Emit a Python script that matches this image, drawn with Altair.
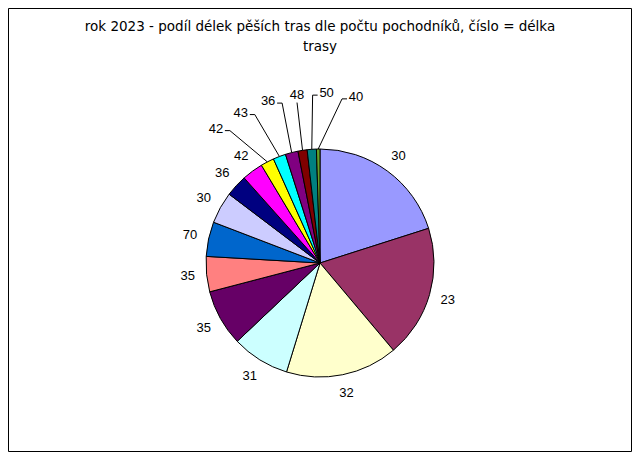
import altair as alt
import pandas as pd
import numpy as np

# ---- data ----
lengths = [30, 23, 32, 31, 35, 35, 70, 30, 36, 42, 42, 43, 36, 48, 50, 40]      # label = délka trasy
shares = [20.1, 18.8, 15.9, 8.2, 8.0, 5.0, 4.9, 4.5, 3.1, 3.0, 1.9, 1.8, 1.8, 1.3, 1.3, 0.5]  # podíl pochodníků (%)
colors = ["#9999FF", "#993366", "#FFFFCC", "#CCFFFF", "#660066", "#FF8080", "#0066CC", "#CCCCFF",
          "#000080", "#FF00FF", "#FFFF00", "#00FFFF", "#800080", "#800000", "#008080", "#64A028"]
title_lines = ["rok 2023 - podíl délek pěších tras dle počtu pochodníků, číslo = délka", "trasy"]

# ---- layout ----
W, H = 624, 444
CX, CY = 312, 255
R = 114
n = len(shares)

tot = float(sum(shares))
ends = np.cumsum(shares) / tot * 360.0
starts = ends - np.array(shares) / tot * 360.0
mids = (starts + ends) / 2.0
sizes = ends - starts

lab_ang = mids.copy()
lab_r = np.full(n, 133.0)
small = np.where(sizes < 8)[0]
m = mids[small].mean()
k = len(small)
for j, i in enumerate(small):
    lab_ang[i] = m + (j - (k - 1) / 2.0) * 10.0
    lab_r[i] = 170.0

rad = np.deg2rad(lab_ang)
lx = CX + lab_r * np.sin(rad)
ly = CY - lab_r * np.cos(rad)

df = pd.DataFrame({"idx": list(range(n)), "share": shares, "length": lengths})
lab_df = pd.DataFrame({"idx": list(range(n)), "lx": lx, "ly": ly, "length": [str(v) for v in lengths]})

line_rows = []
for i in small:
    er = np.deg2rad(mids[i])
    ex, ey = CX + R * np.sin(er), CY - R * np.cos(er)
    if abs(lx[i] - ex) < 10:
        pts = [(lx[i], ly[i] + 8), (ex, ey)]
    else:
        s = 1 if ex > lx[i] else -1
        pts = [(lx[i] + s * 9, ly[i] + 2), (lx[i] + s * 14, ly[i] + 2), (ex, ey)]
    for o, (px, py) in enumerate(pts):
        line_rows.append({"seg": int(i), "o": o, "px": px, "py": py})
line_df = pd.DataFrame(line_rows)

xs = alt.Scale(domain=[0, W], range=[0, W], nice=False, zero=False)
ys = alt.Scale(domain=[0, H], range=[0, H], nice=False, zero=False)

frame = alt.Chart(pd.DataFrame({"a": [0]})).mark_rect(fill=None, stroke="black", strokeWidth=1).encode(
    x=alt.X(datum=0.5, scale=xs, axis=None),
    x2=alt.X2(datum=W - 0.5),
    y=alt.Y(datum=0.5, scale=ys, axis=None),
    y2=alt.Y2(datum=H - 0.5),
)

arcs = alt.Chart(df).mark_arc(outerRadius=R, stroke="black", strokeWidth=1).encode(
    theta=alt.Theta("share:Q", stack=True),
    order=alt.Order("idx:Q"),
    color=alt.Color("idx:O", scale=alt.Scale(domain=list(range(n)), range=colors), legend=None),
    x=alt.value(CX),
    y=alt.value(CY),
)

lines = alt.Chart(line_df).mark_line(color="black", strokeWidth=1).encode(
    x=alt.X("px:Q", scale=xs, axis=None),
    y=alt.Y("py:Q", scale=ys, axis=None),
    detail="seg:N",
    order="o:Q",
)

labels = alt.Chart(lab_df).mark_text(font="Liberation Sans", fontSize=13, color="black",
                                     align="center", baseline="middle").encode(
    x=alt.X("lx:Q", scale=xs, axis=None),
    y=alt.Y("ly:Q", scale=ys, axis=None),
    text="length:N",
)

chart = alt.layer(frame, arcs, lines, labels).properties(
    width=W, height=H, padding=0,
    title=alt.TitleParams(text=title_lines, font="DejaVu Sans", fontSize=13.5, fontWeight="normal",
                          color="black", anchor="middle", frame="group", offset=-45, lineHeight=20),
).configure_view(stroke=None)

chart.save("out.html", embed_options={"renderer": "svg", "actions": False})
